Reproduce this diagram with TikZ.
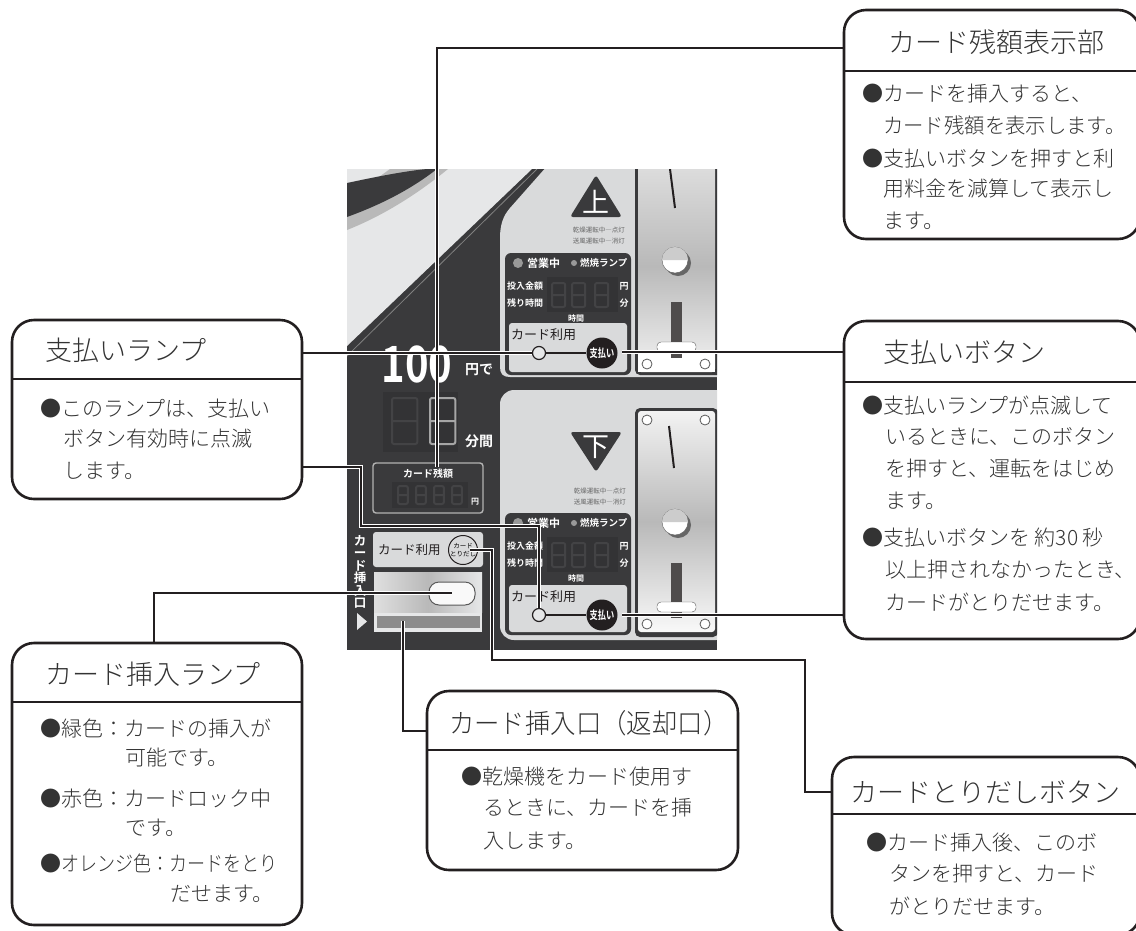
\documentclass[tikz,border=0pt]{standalone}
\usepackage{fontspec}
\usepackage{graphicx}
\setmainfont{Noto Sans CJK JP Light}[BoldFont={Noto Sans CJK JP Bold}]
\newfontfamily\regfont{Noto Sans CJK JP}
\usetikzlibrary{calc}
\pgfdeclarelayer{photo}
\pgfdeclarelayer{lines}
\pgfsetlayers{photo,lines,main}
\definecolor{ink}{HTML}{231F20}
\definecolor{body}{HTML}{333333}
\definecolor{pdark}{HTML}{3A3A3C}
\definecolor{pdeep}{HTML}{333335}
\definecolor{plight}{HTML}{E6E7E8}
\definecolor{ppanel}{HTML}{D9DADB}
\definecolor{pseg}{HTML}{434345}
\tikzset{
 callout/.style={draw=ink,line width=2.6pt,fill=white,rounded corners=22pt,inner sep=0,outer sep=0},
 divider/.style={draw=ink,line width=2.6pt},
 titletext/.style={anchor=west,inner sep=0,text=body,font=\fontsize{27}{27}\selectfont,text height=23.8pt,text depth=3.2pt},
 bodytext/.style={anchor=west,inner sep=0,text=body,font=\fontsize{21}{21}\selectfont,text height=18.5pt,text depth=2.5pt},
 wire/.style={draw=ink,line width=1.8pt,preaction={draw=white,line width=4pt}},
 wtext/.style={inner sep=0,text=white,font=\bfseries\fontsize{#1}{#1}\selectfont},
 dtext/.style={inner sep=0,text=ink,font=\regfont\fontsize{#1}{#1}\selectfont},
 screw/.style={circle,draw=gray!70!black,line width=.8pt,minimum size=10pt,inner sep=0,fill=white},
}
\newcommand{\segdig}[4]{% x y size options
 \draw[pseg,line width=2pt,rounded corners=2pt,#4] (#1,#2) rectangle ++(#3*0.55,#3) (#1,#2+#3*.5) -- ++(#3*0.55,0);
}
\begin{document}
\begin{tikzpicture}[x=1pt,y=-1pt]
\useasboundingbox (0,0) rectangle (1136,930);
\begin{pgfonlayer}{photo}
\begin{scope}
\clip (347,169) rectangle (717,650);
\fill[pdark] (347,169) rectangle (717,650);
% light left region and arc
\fill[plight] (347,169) -- (532,169) -- (347,346) -- cycle;
\draw[gray,line width=.8pt] (537,169) -- (347,356);
\fill[gray!55] (347,200) -- (390,169) -- (448,169) .. controls (420,192) and (385,215) .. (347,230) -- cycle;
\fill[pdark] (347,183) .. controls (375,177) and (405,171) .. (427,169) -- (437,169) .. controls (410,190) and (380,205) .. (347,217) -- cycle;
% control panels
\fill[ppanel] (548,165) -- (510,208) .. controls (503,216) and (500,225) .. (500,238) -- (500,367) .. controls (500,374) and (503,377) .. (510,377) -- (730,377) -- (730,165) -- cycle;
\fill[ppanel,rounded corners=14pt] (500,390) rectangle (730,640);
% coin plate (upper)
\fill[pdark,rounded corners=5pt] (635,160) rectangle (730,375);
\shade[top color=gray!25,bottom color=gray!10,middle color=gray!55,rounded corners=3pt] (638,160) rectangle (715,372);
\fill[white] (638,352) rectangle (715,372);
\draw[ink,line width=2pt] (670,169) -- (675,208);
\fill[gray!80!black] (678,263) circle (13);
\draw[gray!70!black,fill=white] (675,260) circle (13);
\fill[gray!40] (662,260) arc (180:360:13) -- cycle;
\fill[ink!80] (671,302) rectangle (682,358);
\draw[gray!70!black,fill=white,rounded corners=4pt] (657,342) rectangle (696,352);
\node[screw] (su1) at (647,364) {};
\node[screw] (su2) at (705,364) {};
% coin plate (lower)
\fill[pdark,rounded corners=5pt] (635,408) rectangle (718,637);
\shade[top color=gray!10,bottom color=gray!5,middle color=gray!55,rounded corners=3pt] (638,411) rectangle (715,632);
\draw[ink,line width=2pt] (669,426) -- (674,468);
\fill[gray!80!black] (678,525) circle (13);
\draw[gray!70!black,fill=white] (675,522) circle (13);
\fill[gray!40] (662,522) arc (180:360:13) -- cycle;
\fill[ink!80] (671,563) rectangle (682,618);
\draw[gray!70!black,fill=white,rounded corners=4pt] (657,602) rectangle (696,612);
\node[screw] (sl1) at (647,624) {};
\node[screw] (sl2) at (705,624) {};
\node[screw] (sl3) at (647,420) {};
\node[screw] (sl4) at (705,420) {};
% triangles
\fill[pdark,rounded corners=3pt] (596,175) -- (622,217) -- (570,217) -- cycle;
\node[inner sep=0,text=white,font=\regfont\fontsize{27}{27}\selectfont] (tU) at (596,202) {上};
\fill[pdark,rounded corners=3pt] (596,472) -- (622,432) -- (570,432) -- cycle;
\node[inner sep=0,text=white,font=\regfont\fontsize{27}{27}\selectfont] (tD) at (596,447) {下};
\node[anchor=east,inner sep=0,text=gray!80!black,font=\regfont\fontsize{6.5}{6.5}\selectfont] (smU1) at (625,230) {乾燥運転中―点灯};
\node[anchor=east,inner sep=0,text=gray!80!black,font=\regfont\fontsize{6.5}{6.5}\selectfont] (smU2) at (625,241) {送風運転中―消灯};
\node[anchor=east,inner sep=0,text=gray!80!black,font=\regfont\fontsize{6.5}{6.5}\selectfont] (smD1) at (626,491) {乾燥運転中―点灯};
\node[anchor=east,inner sep=0,text=gray!80!black,font=\regfont\fontsize{6.5}{6.5}\selectfont] (smD2) at (626,502) {送風運転中―消灯};
% upper display
\fill[pdark,rounded corners=6pt] (505,253) rectangle (631,375);
\fill[gray!80] (518,263) circle (5);
\node[wtext=11,anchor=west] (eiU) at (527,263) {営業中};
\fill[gray!80] (574,263) circle (3);
\node[wtext=9.5,anchor=west] (neU) at (580,263) {燃焼ランプ};
\fill[pdeep] (547,277) rectangle (618,312);
\segdig{552}{283}{24}{}
\segdig{572}{283}{24}{}
\segdig{595}{283}{24}{}
\node[wtext=9,anchor=west] (inU) at (507,286) {投入金額};
\node[wtext=9,anchor=west] (reU) at (507,303) {残り時間};
\node[wtext=9] (enU) at (624,286) {円};
\node[wtext=9] (fuU) at (624,303) {分};
\node[wtext=8] (jiU) at (576,318) {時間};
\fill[ppanel,rounded corners=3pt] (509,323) rectangle (627,372);
\node[dtext=13,anchor=west] (caU) at (511,335) {カード利用};
\node[circle,draw=ink,fill=plight,line width=1.2pt,minimum size=13pt,inner sep=0] (lampU) at (539,353) {};
\node[circle,fill=ink,minimum size=31pt,inner sep=0] (btnU) at (602,353) {};
\node[wtext=10] (btnUt) at (btnU) {\scalebox{.82}[1.15]{支払い}};
\draw[ink,line width=1.4pt] (lampU) -- (btnU);
% lower display
\fill[pdark,rounded corners=6pt] (505,513) rectangle (631,635);
\fill[gray!80] (518,523) circle (5);
\node[wtext=11,anchor=west] (eiD) at (527,523) {営業中};
\fill[gray!80] (574,523) circle (3);
\node[wtext=9.5,anchor=west] (neD) at (580,523) {燃焼ランプ};
\fill[pdeep] (547,537) rectangle (618,572);
\segdig{552}{543}{24}{}
\segdig{572}{543}{24}{}
\segdig{595}{543}{24}{}
\node[wtext=9,anchor=west] (inD) at (507,546) {投入金額};
\node[wtext=9,anchor=west] (reD) at (507,563) {残り時間};
\node[wtext=9] (enD) at (624,546) {円};
\node[wtext=9] (fuD) at (624,563) {分};
\node[wtext=8] (jiD) at (576,578) {時間};
\fill[ppanel,rounded corners=3pt] (509,585) rectangle (627,632);
\node[dtext=13,anchor=west] (caD) at (511,597) {カード利用};
\node[circle,draw=ink,fill=plight,line width=1.2pt,minimum size=13pt,inner sep=0] (lampD) at (539,615) {};
\node[circle,fill=ink,minimum size=31pt,inner sep=0] (btnD) at (602,615) {};
\node[wtext=10] (btnDt) at (btnD) {\scalebox{.82}[1.15]{支払い}};
\draw[ink,line width=1.4pt] (lampD) -- (btnD);
% left column
\node[inner sep=0,text=white,font=\bfseries\fontsize{50}{50}\selectfont] (hund) at (417,364) {\scalebox{.8}[1]{100}};
\node[wtext=14,anchor=west] (ende) at (465,370) {円で};
\fill[pdeep] (383,392) rectangle (458,452);
\segdig{392}{398}{46}{}
\segdig{430}{398}{46}{draw=gray!70}
\node[wtext=14,anchor=west] (funkan) at (465,441) {分間};
\draw[gray!60,line width=1.4pt,fill=pdark,rounded corners=3pt] (373,463) rectangle (483,513);
\node[wtext=10] (zan) at (428,474) {カード残額};
\fill[pdeep] (392,482) rectangle (468,508);
\segdig{398}{486}{18}{}
\segdig{416}{486}{18}{}
\segdig{434}{486}{18}{}
\segdig{452}{486}{18}{}
\node[wtext=8] (enz) at (475,502) {円};
\fill[ppanel,rounded corners=3pt] (373,532) rectangle (483,567);
\node[dtext=12.5,anchor=west] (caL) at (378,550) {カード利用};
\node[circle,draw=ink,line width=1pt,fill=ppanel,minimum size=29pt,inner sep=0,align=center,font=\regfont\fontsize{6.5}{7.5}\selectfont] (ejectBtn) at (463,550) {カード\\とりだし};
\shade[left color=gray!25,right color=plight,middle color=gray!55] (374,572) rectangle (482,612);
\draw[gray!70!black,fill=white!95!gray,rounded corners=10pt,line width=1pt] (429,582) rectangle (475,605);
\fill[plight] (374,613) rectangle (482,632);
\fill[gray!90] (377,616) rectangle (480,628);
\node[inner sep=0,text=white,align=center,text width=14pt,font=\bfseries\fontsize{12.5}{12.5}\selectfont] (vert) at (360,572) {カ\\ー\\ド\\挿\\入\\口};
\fill[plight] (357,613) -- (367,621.5) -- (357,630) -- cycle;
\end{scope}
\coordinate (tipZan) at (437,467);
\coordinate (tipLampIns) at (452,593);
\coordinate (tipSlot) at (403,621);
\coordinate (tipEject) at (470,550);
\coordinate (tipBtnU) at (622,352);
\coordinate (tipBtnD) at (622,615);
\end{pgfonlayer}

% callouts
\node[callout,minimum width=296pt,minimum height=229pt] (bZan) at (992,124.5) {};
\draw[divider] (bZan.west |- 0,71) -- (bZan.east |- 0,71);
\node[callout,minimum width=290pt,minimum height=179pt] (bLamp) at (157,409.5) {};
\draw[divider] (bLamp.west |- 0,379) -- (bLamp.east |- 0,379);
\node[callout,minimum width=296pt,minimum height=318pt] (bBtn) at (992,480) {};
\draw[divider] (bBtn.west |- 0,382) -- (bBtn.east |- 0,382);
\node[callout,minimum width=290pt,minimum height=282pt] (bIns) at (157,784) {};
\draw[divider] (bIns.west |- 0,702) -- (bIns.east |- 0,702);
\node[callout,minimum width=311pt,minimum height=179pt] (bSlot) at (582.5,780.5) {};
\draw[divider] (bSlot.west |- 0,750) -- (bSlot.east |- 0,750);
\node[callout,minimum width=308pt,minimum height=178pt] (bEj) at (986,846) {};
\draw[divider] (bEj.west |- 0,814) -- (bEj.east |- 0,814);

% connectors
\begin{pgfonlayer}{lines}
\draw[wire] (bZan.west |- 0,48) -| (tipZan);
\draw[wire] (bLamp.east |- lampU) -- (lampU.west);
\draw[wire] (bLamp.east |- 0,467) -- (361,467) |- (lampD |- 0,526) -- (lampD.north);
\draw[wire] (bBtn.west |- tipBtnU) -- (tipBtnU);
\draw[wire] (bBtn.west |- tipBtnD) -- (tipBtnD);
\draw[wire] (bIns.north -| 154,0) |- (tipLampIns);
\draw[wire] (bSlot.west |- 0,731) -| (tipSlot);
\draw[wire] (bEj.west |- 0,792) -- (805,792) |- (492,660) |- (tipEject);
\end{pgfonlayer}

% titles
\node[titletext] (tZan) at (888,42) {カード残額表示部};
\node[titletext] (tLamp) at (45,350) {支払いランプ};
\node[titletext] (tBtn) at (883,352) {支払いボタン};
\node[titletext] (tIns) at (45,674) {カード挿入ランプ};
\node[titletext] (tSlot) at (449,723) {\scalebox{.94}[1]{カード挿入口（返却口）}};
\node[titletext] (tEj) at (850,792) {カードとりだしボタン};

% body
\node[bodytext] (z1) at (862,93) {●カードを挿入すると、};
\node[bodytext] (z2) at (883,125) {\scalebox{.97}[1]{カード残額を表示します。}};
\node[bodytext] (z3) at (862,158) {●支払いボタンを押すと利};
\node[bodytext] (z4) at (883,188) {用料金を減算して表示し};
\node[bodytext] (z5) at (883,220) {ます。};

\node[bodytext] (l1) at (40,408) {●このランプは、支払い};
\node[bodytext] (l2) at (63,438) {ボタン有効時に点滅};
\node[bodytext] (l3) at (63,470) {します。};

\node[bodytext] (b1) at (862,405) {●支払いランプが点滅して};
\node[bodytext] (b2) at (885,436) {いるときに、このボタン};
\node[bodytext] (b3) at (885,468) {を押すと、運転をはじめ};
\node[bodytext] (b4) at (885,500) {ます。};
\node[bodytext] (b5) at (862,537) {●支払いボタンを 約30 秒};
\node[bodytext] (b6) at (885,569) {以上押されなかったとき、};
\node[bodytext] (b7) at (885,602) {カードがとりだせます。};

\node[bodytext] (i1) at (40,728) {●緑色：カードの挿入が};
\node[bodytext] (i2) at (125,757) {可能です。};
\node[bodytext] (i3) at (40,798) {●赤色：カードロック中};
\node[bodytext] (i4) at (125,827) {です。};
\node[bodytext] (i5) at (40,863) {●\scalebox{.86}[1]{オレンジ色：カードをとり}};
\node[bodytext] (i6) at (170,893) {だせます。};

\node[bodytext] (s1) at (461,776) {●乾燥機をカード使用す};
\node[bodytext] (s2) at (483,807) {るときに、カードを挿};
\node[bodytext] (s3) at (483,840) {入します。};

\node[bodytext] (e1) at (866,842) {●カード挿入後、このボ};
\node[bodytext] (e2) at (889,873) {タンを押すと、カード};
\node[bodytext] (e3) at (889,906) {がとりだせます。};
\end{tikzpicture}
\end{document}
